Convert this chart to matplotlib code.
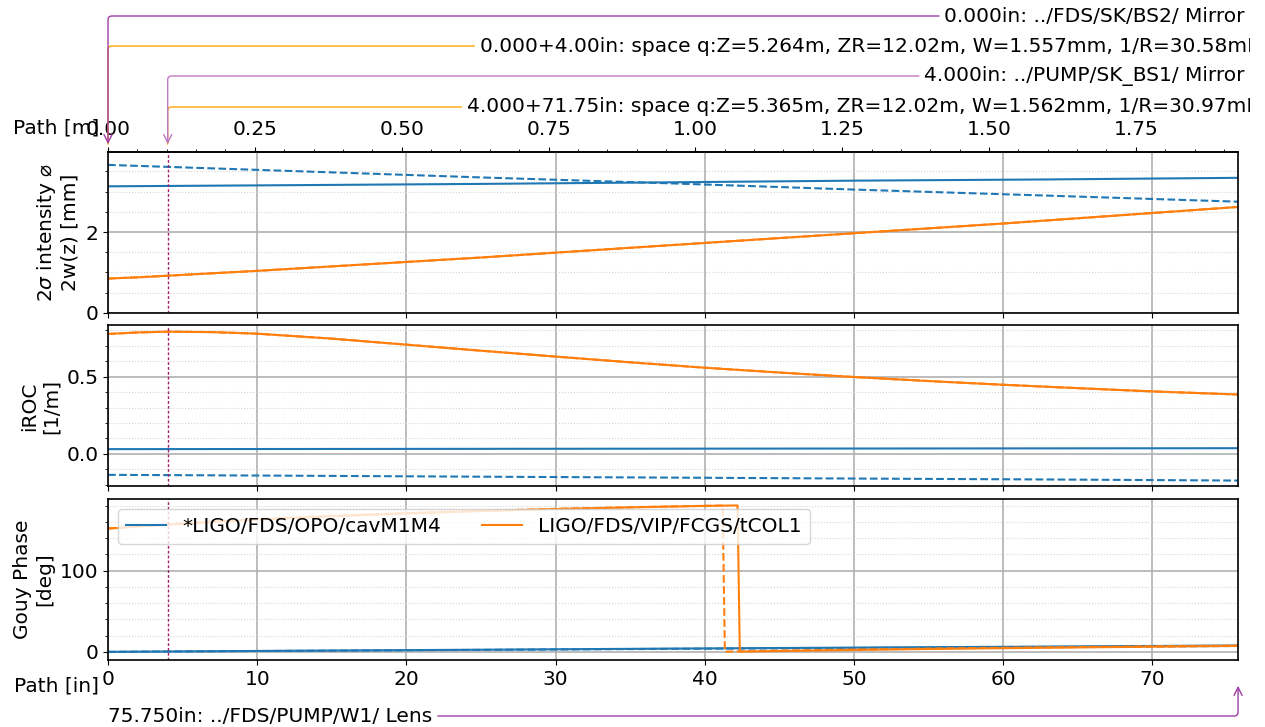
import matplotlib
matplotlib.use('Agg')
import matplotlib.pyplot as plt
from matplotlib.ticker import MultipleLocator
from matplotlib.transforms import Bbox, TransformedBbox

plt.rcParams['font.size'] = 14.5
plt.rcParams['axes.linewidth'] = 1.2

IN2M = 0.0254
path_end = 75.75
mirror_in = 4.0

# cavity mode (blue), tangential / sagittal
pos_a = [0, 13, 25, 38, 50, 63, 75.75]
width_a_t = [3.13, 3.16, 3.19, 3.23, 3.27, 3.30, 3.34]
width_a_s = [3.66, 3.50, 3.35, 3.20, 3.05, 2.90, 2.75]
iroc_a_t = [0.031, 0.032, 0.033, 0.034, 0.035, 0.036, 0.037]
iroc_a_s = [-0.135, -0.141, -0.147, -0.153, -0.159, -0.165, -0.172]
gouy_a_t = [0, 1.4, 2.6, 4.0, 5.2, 6.5, 7.8]
gouy_a_s = [0, 1.3, 2.4, 3.7, 4.8, 6.0, 7.2]

# collimator beam (orange)
pos_b = [0, 2, 4, 7, 10, 15, 20, 25, 30, 35, 40, 45, 50, 55, 60, 65, 70, 75.75]
width_b = [0.85, 0.88, 0.92, 0.98, 1.04, 1.15, 1.26, 1.37, 1.49, 1.61, 1.73,
           1.85, 1.97, 2.09, 2.21, 2.34, 2.47, 2.62]
iroc_b = [0.775, 0.785, 0.79, 0.787, 0.777, 0.745, 0.706, 0.667, 0.629, 0.592,
          0.557, 0.526, 0.497, 0.471, 0.447, 0.425, 0.404, 0.384]
gouy_b_t_pos = [0, 2, 4, 7, 10, 15, 20, 25, 30, 35, 40, 42.2, 42.35,
                45, 50, 55, 60, 65, 70, 75.75]
gouy_b_t = [151.5, 154.1, 156.5, 159.8, 162.8, 166.9, 170.3, 173.2, 175.6, 177.7,
            179.5, 180.1, 0.3, 1.0, 2.3, 3.5, 4.5, 5.4, 6.3, 7.3]
gouy_b_s_pos = [0, 2, 4, 7, 10, 15, 20, 25, 30, 35, 40, 41.2, 41.35,
                45, 50, 55, 60, 65, 70, 75.75]
gouy_b_s = [151.8, 154.4, 156.8, 160.1, 163.1, 167.2, 170.6, 173.5, 175.9, 177.9,
            179.6, 179.9, 0.2, 1.5, 2.8, 4.0, 5.0, 5.9, 6.8, 7.8]

labels = ['*LIGO/FDS/OPO/cavM1M4', 'LIGO/FDS/VIP/FCGS/tCOL1']

fig, axes = plt.subplots(3, 1, sharex=True, figsize=(12.65, 7.27), dpi=100)
fig.subplots_adjust(left=0.0854, right=0.9787, top=0.791, bottom=0.0922, hspace=0.078)
ax0, ax1, ax2 = axes

ax0.plot(pos_a, width_a_t, color='C0', lw=1.5)
ax0.plot(pos_a, width_a_s, color='C0', lw=1.5, ls='--')
ax0.plot(pos_b, width_b, color='C1', lw=1.5)
ax0.plot(pos_b, width_b, color='C1', lw=1.5, ls='--')
ax0.set_ylim(0, 3.98)
ax0.yaxis.set_major_locator(MultipleLocator(2))
ax0.yaxis.set_minor_locator(MultipleLocator(0.5))
ax0.set_ylabel('2$\\sigma$ intensity ⌀\n2w(z) [mm]')

ax1.plot(pos_a, iroc_a_t, color='C0', lw=1.5)
ax1.plot(pos_a, iroc_a_s, color='C0', lw=1.5, ls='--')
ax1.plot(pos_b, iroc_b, color='C1', lw=1.5)
ax1.plot(pos_b, iroc_b, color='C1', lw=1.5, ls='--')
ax1.set_ylim(-0.21, 0.83)
ax1.yaxis.set_major_locator(MultipleLocator(0.5))
ax1.yaxis.set_minor_locator(MultipleLocator(0.1))
ax1.set_ylabel('iROC\n[1/m]')

ax2.plot(pos_a, gouy_a_t, color='C0', lw=1.5, label=labels[0])
ax2.plot(pos_a, gouy_a_s, color='C0', lw=1.5, ls='--')
ax2.plot(gouy_b_t_pos, gouy_b_t, color='C1', lw=1.5, label=labels[1])
ax2.plot(gouy_b_s_pos, gouy_b_s, color='C1', lw=1.5, ls='--')
ax2.set_ylim(-10, 188)
ax2.yaxis.set_major_locator(MultipleLocator(100))
ax2.yaxis.set_minor_locator(MultipleLocator(20))
ax2.set_ylabel('Gouy Phase\n[deg]')
ax2.legend(loc='upper left', ncol=2)

for ax in axes:
    ax.set_xlim(0, path_end)
    ax.xaxis.set_major_locator(MultipleLocator(10))
    ax.grid(True, which='major', color='#b0b0b0', lw=1.2)
    ax.grid(True, which='minor', axis='y', color='#d5d5d5', ls=':', lw=0.8)
    ax.axvline(mirror_in, color='#a0206a', ls=(0, (2, 1.5)), lw=1)

ax2.set_xlabel('Path [in]', ha='right', va='center')
ax2.xaxis.set_label_coords(-0.008, -0.16)

# metric path axis on top
sec = ax0.secondary_xaxis('top', functions=(lambda x: x * IN2M, lambda m: m / IN2M))
sec.xaxis.set_major_locator(MultipleLocator(0.25))
sec.xaxis.set_minor_locator(MultipleLocator(0.05))
sec.tick_params(axis='x', which='major', pad=5.5)
sec.set_xlabel('Path [m]', ha='right', va='center')
sec.xaxis.set_label_coords(-0.008, 1.15, transform=ax0.transAxes)

# optics / space annotations
space_arrow = dict(arrowstyle='-', color='orange', lw=1,
                   connectionstyle='angle,angleA=0,angleB=90,rad=4')
# long segment descriptions run off the right side
text_clip = TransformedBbox(Bbox([[0, 0], [1250 / 1265, 1]]), fig.transFigure)

a1 = ax0.annotate('0.000+4.00in: space q:Z=5.264m, ZR=12.02m, W=1.557mm, 1/R=30.58mD',
                  xy=(0, 1.031), xycoords=('data', 'axes fraction'),
                  xytext=(480, 727 - 46), textcoords='figure pixels',
                  ha='left', va='center', arrowprops=space_arrow, annotation_clip=False)
a2 = ax0.annotate('4.000+71.75in: space q:Z=5.365m, ZR=12.02m, W=1.562mm, 1/R=30.97mD',
                  xy=(4, 1.031), xycoords=('data', 'axes fraction'),
                  xytext=(467, 727 - 107), textcoords='figure pixels',
                  ha='left', va='center', arrowprops=space_arrow, annotation_clip=False)
for a in (a1, a2):
    a.set_clip_box(text_clip)
    a.set_clip_on(True)

ax0.annotate('0.000in: ../FDS/SK/BS2/ Mirror',
             xy=(0, 1.031), xycoords=('data', 'axes fraction'),
             xytext=(1245, 727 - 16), textcoords='figure pixels',
             ha='right', va='center', annotation_clip=False,
             arrowprops=dict(arrowstyle='->', color='#a03ca5', lw=1,
                             connectionstyle='angle,angleA=0,angleB=90,rad=4'))
ax0.annotate('4.000in: ../PUMP/SK_BS1/ Mirror',
             xy=(4, 1.031), xycoords=('data', 'axes fraction'),
             xytext=(1245, 727 - 76), textcoords='figure pixels',
             ha='right', va='center', annotation_clip=False,
             arrowprops=dict(arrowstyle='->', color='#c078c4', lw=1,
                             connectionstyle='angle,angleA=0,angleB=90,rad=4'))
ax2.annotate('75.750in: ../FDS/PUMP/W1/ Lens',
             xy=(path_end, -0.143), xycoords=('data', 'axes fraction'),
             xytext=(108, 11), textcoords='figure pixels',
             ha='left', va='center', annotation_clip=False,
             arrowprops=dict(arrowstyle='->', color='#a03ca5', lw=1,
                             connectionstyle='angle,angleA=0,angleB=90,rad=4'))

fig.savefig('out.png', dpi=100)
plt.close(fig)
